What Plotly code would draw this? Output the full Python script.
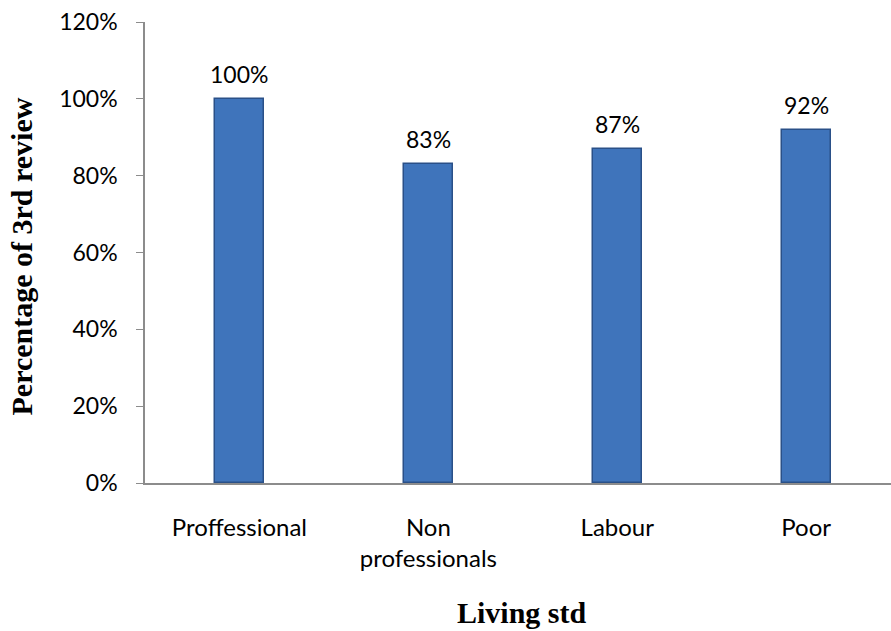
import plotly.graph_objects as go

categories = ["Proffessional", "Non<br>professionals", "Labour", "Poor"]
values = [100, 83, 87, 92]
labels = ["100%", "83%", "87%", "92%"]
y_ticks = [0, 20, 40, 60, 80, 100, 120]
y_ticktext = ["0%", "20%", "40%", "60%", "80%", "100%", "120%"]

FONT = "Lato"
xs = list(range(len(categories)))

fig = go.Figure()
fig.add_trace(go.Bar(
    x=xs, y=values,
    width=0.26,
    marker=dict(color="#3f74bb", line=dict(color="#2a5088", width=1.5)),
    cliponaxis=False,
))

for xi, v, t in zip(xs, values, labels):
    fig.add_annotation(x=xi, y=v, text=t, showarrow=False, yanchor="bottom",
                       yshift=9, font=dict(family=FONT, size=23, color="#000"))

fig.add_annotation(xref="paper", yref="paper", x=0.5, y=0, xshift=4, yshift=-129,
                   text="<b>Living std</b>", showarrow=False, yanchor="middle",
                   font=dict(family="Liberation Serif", size=30, color="#000"))
fig.add_annotation(xref="paper", yref="paper", x=0, y=0.5, xshift=-124, yshift=-4,
                   text="<b>Percentage of 3rd review</b>", showarrow=False, textangle=-90,
                   xanchor="center", yanchor="middle",
                   font=dict(family="Liberation Serif", size=30, color="#000"))

fig.update_layout(
    width=891, height=631,
    margin=dict(l=145, r=0, t=22, b=148),
    paper_bgcolor="white", plot_bgcolor="white",
    showlegend=False,
    font=dict(family=FONT, size=23, color="#000"),
    bargap=0,
)
fig.update_xaxes(
    range=[-0.5, 3.449],
    tickmode="array", tickvals=xs, ticktext=categories,
    showline=True, linecolor="#8c8c8c", linewidth=1.5,
    ticks="", showgrid=False, zeroline=False,
    tickfont=dict(family=FONT, size=24),
    ticklabelstandoff=22,
)
fig.update_yaxes(
    range=[0, 120], tickmode="array", tickvals=y_ticks, ticktext=y_ticktext,
    showline=True, linecolor="#8c8c8c", linewidth=1.5,
    ticks="outside", ticklen=7, tickcolor="#8c8c8c",
    showgrid=False, zeroline=False,
    tickfont=dict(family=FONT, size=23),
    ticklabelstandoff=14,
)

fig.write_html("out.html")
